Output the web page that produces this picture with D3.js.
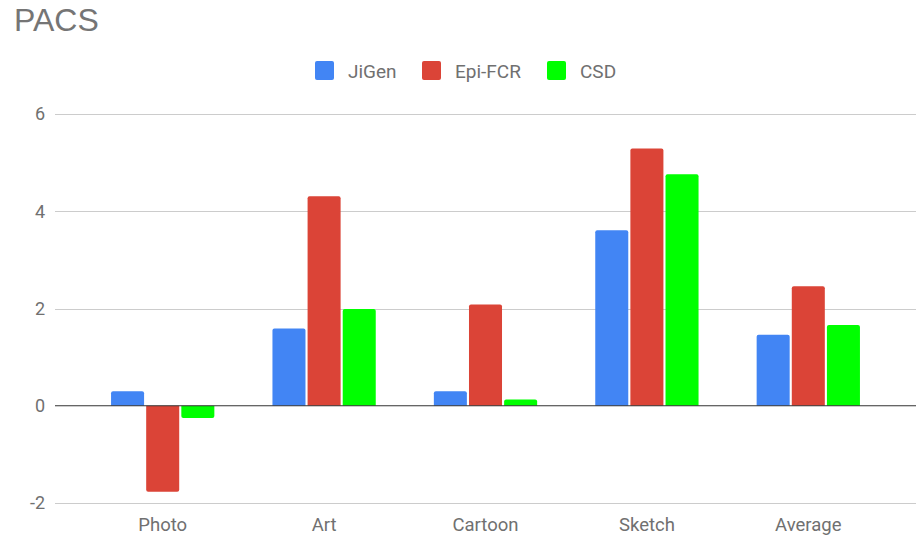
<!DOCTYPE html>
<html>
<head>
<meta charset="utf-8">
<script src="https://cdn.jsdelivr.net/npm/d3@7"></script>
<style>
  html, body { margin: 0; padding: 0; background: #fff; }
  svg { display: block; font-family: Roboto, "Noto Sans", sans-serif; }
</style>
</head>
<body>
<svg id="chart" width="924" height="537"></svg>
<script>
// Domains of PACS
const categories = ["Photo", "Art", "Cartoon", "Sketch", "Average"];
const seriesNames = ["JiGen", "Epi-FCR", "CSD"];
const seriesColors = ["#4285F4", "#DB4437", "#00FF00"];
const jigen = [0.30, 1.59, 0.30, 3.61, 1.46];
const epiFcr = [-1.77, 4.31, 2.08, 5.29, 2.46];
const csd = [-0.25, 1.99, 0.13, 4.76, 1.66];
const yTicks = [-2, 0, 2, 4, 6];

const seriesValues = [jigen, epiFcr, csd];
const rows = categories.map((c, i) => ({
  category: c,
  values: seriesNames.map((s, j) => ({ series: s, color: seriesColors[j], value: seriesValues[j][i] }))
}));

const svg = d3.select("#chart");
const gridLeft = 55, gridRight = 916;
const textGray = "#707070";

const y = d3.scaleLinear().domain([-2, 6]).range([503, 114]);
const x0 = d3.scaleBand().domain(categories).range([82, 889]).paddingInner(0.36).paddingOuter(0.18);
const x1 = d3.scaleBand().domain(seriesNames).range([0, x0.bandwidth()]).paddingInner(0.06);

// Title
svg.append("text").attr("x", 14).attr("y", 30.5)
  .attr("font-family", "'Liberation Sans', Arial, sans-serif")
  .attr("font-size", 32).attr("fill", "#757575").text("PACS");

// Gridlines
svg.append("g").selectAll("line").data(yTicks.filter(t => t !== 0)).join("line")
  .attr("x1", gridLeft).attr("x2", gridRight)
  .attr("y1", d => Math.round(y(d)) + 0.5).attr("y2", d => Math.round(y(d)) + 0.5)
  .attr("stroke", "#cccccc").attr("stroke-width", 1);

// Y axis labels (plain hyphen for negatives)
const yAxis = d3.axisLeft(y).tickValues(yTicks).tickSize(0).tickPadding(0).tickFormat(d => String(d));
const yg = svg.append("g").attr("transform", `translate(45,0)`).call(yAxis);
yg.select(".domain").remove();
yg.selectAll("text").attr("font-size", 18).attr("fill", textGray).attr("font-family", "Roboto, sans-serif");

// Bars with rounded outer ends
function barPath(xPos, w, v) {
  const y0 = y(0), y1 = y(v);
  const r = 2;
  if (v >= 0) {
    return `M${xPos},${y0} V${y1 + r} Q${xPos},${y1} ${xPos + r},${y1} H${xPos + w - r} Q${xPos + w},${y1} ${xPos + w},${y1 + r} V${y0} Z`;
  } else {
    return `M${xPos},${y0} V${y1 - r} Q${xPos},${y1} ${xPos + r},${y1} H${xPos + w - r} Q${xPos + w},${y1} ${xPos + w},${y1 - r} V${y0} Z`;
  }
}

svg.append("g").selectAll("g").data(rows).join("g")
  .attr("transform", d => `translate(${x0(d.category)},0)`)
  .selectAll("path").data(d => d.values).join("path")
  .attr("d", d => barPath(x1(d.series), x1.bandwidth(), d.value))
  .attr("fill", d => d.color);

// Zero baseline
svg.append("line")
  .attr("x1", gridLeft).attr("x2", gridRight)
  .attr("y1", y(0)).attr("y2", y(0))
  .attr("stroke", "#333333").attr("stroke-width", 1.2);

// X axis labels
const xAxis = d3.axisBottom(x0).tickSize(0).tickPadding(0);
const xg = svg.append("g").attr("transform", `translate(0,531)`).call(xAxis);
xg.select(".domain").remove();
xg.selectAll("text").attr("dy", 0).attr("font-size", 18.5).attr("fill", textGray).attr("font-family", "Roboto, sans-serif");

// Legend
const legendItems = [
  { name: seriesNames[0], color: seriesColors[0], x: 315 },
  { name: seriesNames[1], color: seriesColors[1], x: 422 },
  { name: seriesNames[2], color: seriesColors[2], x: 547 }
];
const lg = svg.append("g").selectAll("g").data(legendItems).join("g")
  .attr("transform", d => `translate(${d.x},61)`);
lg.append("rect").attr("width", 19).attr("height", 19).attr("rx", 2).attr("fill", d => d.color);
lg.append("text").attr("x", 33).attr("y", 16.5).attr("font-size", 19).attr("fill", textGray).text(d => d.name);
</script>
</body>
</html>
